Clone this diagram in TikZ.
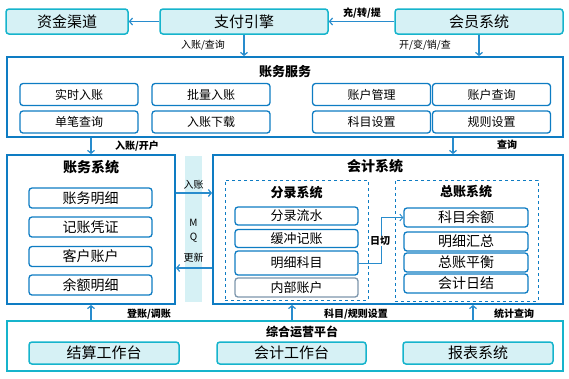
\documentclass[tikz,border=0pt]{standalone}
\usepackage{fontspec}
\setmainfont{Noto Sans CJK SC}
\usetikzlibrary{arrows.meta}
\definecolor{linecyan}{RGB}{22, 180, 204}
\definecolor{fillcyan}{RGB}{214, 241, 245}
\definecolor{frameblue}{RGB}{14, 124, 195}
\definecolor{arrowblue}{RGB}{40, 140, 205}
\definecolor{grayblue}{RGB}{125, 150, 172}

\begin{document}
\begin{tikzpicture}[
    x=1pt, y=-1pt,
    topbox/.style={draw=linecyan, fill=fillcyan, line width=1.5pt, rounded corners=3pt,
                   inner sep=0pt, minimum height=#1, font=\fontsize{15}{15}\selectfont},
    topbox/.default=25pt,
    frame/.style={draw=#1, line width=1.8pt, inner sep=0pt},
    frame/.default=frameblue,
    subbox/.style={draw=#1, line width=1.3pt, rounded corners=3pt, fill=white, inner sep=0pt},
    subbox/.default=frameblue,
    dashbox/.style={draw=frameblue, dashed, line width=0.9pt, inner sep=0pt},
    title/.style={font=\bfseries\fontsize{#1}{#1}\selectfont},
    lbl/.style={font=\fontsize{10}{10}\selectfont, inner sep=1pt},
    blbl/.style={font=\bfseries\fontsize{10}{10}\selectfont, inner sep=1pt},
    arr/.style={draw=arrowblue, line width=1.2pt, -{Straight Barb[length=3pt, width=7pt]}}
]
    \useasboundingbox (0,0) rectangle (569,378);

    % Top row
    \node[topbox, minimum width=122pt] (zjqd) at (67,21.5)  {资金渠道};
    \node[topbox, minimum width=168pt] (zfyq) at (244,21.5) {支付引擎};
    \node[topbox, minimum width=168pt] (hyxt) at (479,21.5) {会员系统};

    % Accounting service
    \node[frame, minimum width=556pt, minimum height=80pt] (zwfw) at (285,97) {};
    \node[title=13] (zwfw_t) at (285,72) {账务服务};
    \tikzset{svc/.style={subbox, minimum width=118pt, minimum height=22pt, font=\fontsize{12}{12}\selectfont}}
    \node[svc] (ssrz) at (79,94.5)    {实时入账};
    \node[svc] (plrz) at (211,94.5)   {批量入账};
    \node[svc] (zhgl) at (371.5,94.5) {账户管理};
    \node[svc] (zhcx) at (491.5,94.5) {账户查询};
    \node[svc] (dbcx) at (79,122)     {单笔查询};
    \node[svc] (rzxz) at (211,122)    {入账下载};
    \node[svc] (kmsz) at (371.5,122)  {科目设置};
    \node[svc] (gzsz) at (491.5,122)  {规则设置};

    % Ledger system
    \node[frame, minimum width=168pt, minimum height=149pt] (zwxt) at (91,229.5) {};
    \node[title=14] (zwxt_t) at (91,167) {账务系统};
    \tikzset{zw/.style={subbox, minimum width=123pt, minimum height=20pt, font=\fontsize{14}{14}\selectfont}}
    \node[zw] (zwmx) at (90.5,198)   {账务明细};
    \node[zw] (jzpz) at (90.5,227)   {记账凭证};
    \node[zw] (khzh) at (90.5,256.5) {客户账户};
    \node[zw] (yemx) at (90.5,285)   {余额明细};

    % MQ bar
    \node[fill=fillcyan, inner sep=0pt, minimum width=17pt, minimum height=146pt] (mq) at (193.5,229) {};
    \node[lbl] (mq_m) at (193.5,223) {M};
    \node[lbl] (mq_q) at (193.5,238) {Q};

    % Accounting system
    \node[frame, minimum width=350pt, minimum height=149pt] (kjxt) at (388,229.5) {};
    \node[title=14] (kjxt_t) at (375,166) {会计系统};

    % Entry subsystem
    \node[dashbox, minimum width=143pt, minimum height=120pt] (flxt) at (296.5,240) {};
    \node[title=13] (flxt_t) at (296.5,193) {分录系统};
    \tikzset{fl/.style={subbox=#1, minimum width=123pt, font=\fontsize{13}{13}\selectfont},
             fl/.default=frameblue}
    \node[fl, minimum height=18pt] (flls) at (296.5,216)   {分录流水};
    \node[fl, minimum height=18pt] (hcjz) at (296.5,238.5) {缓冲记账};
    \node[fl, minimum height=24pt] (mxkm) at (296.5,263)   {明细科目};
    \node[fl=grayblue, minimum height=19pt] (nbzh) at (296.5,287.5) {内部账户};

    % General ledger subsystem
    \node[dashbox, minimum width=143pt, minimum height=121pt] (zzxt) at (466.5,240.5) {};
    \node[title=13] (zzxt_t) at (466,192) {总账系统};
    \tikzset{zz/.style={subbox, minimum width=124pt, minimum height=19pt, font=\fontsize{14}{14}\selectfont}}
    \node[zz] (kmye) at (466,217.5) {科目余额};
    \node[zz] (mxhz) at (466,241.5) {明细汇总};
    \node[zz] (zzph) at (466,262.5) {总账平衡};
    \node[zz] (kjrj) at (466,283.5) {会计日结};

    % Operation platform
    \node[frame=linecyan, minimum width=556pt, minimum height=50pt] (zhyy) at (285,346) {};
    \node[title=12] (zhyy_t) at (302,332) {综合运营平台};
    \node[topbox=22pt, minimum width=150pt] (jsgz) at (104,353)   {结算工作台};
    \node[topbox=22pt, minimum width=149pt] (kjgz) at (291.5,353) {会计工作台};
    \node[topbox=22pt, minimum width=150pt] (bbxt) at (478,353)   {报表系统};

    % Helper coordinates
    \coordinate (mq_in)  at (0,193);
    \coordinate (mq_out) at (0,268);
    \coordinate (cx_x)   at (453,0);
    \coordinate (rq_x)   at (381,0);
    \coordinate (km_x)   at (292,0);
    \coordinate (tj_x)   at (473,0);

    % Top arrows
    \draw[arr] (zfyq.west) -- (zjqd.east);
    \draw[arr] (hyxt.west) -- (zfyq.east);
    \node[blbl] at (362,13) {充/转/提};
    \draw[arr] (zfyq.south) -- (zfyq.south |- zwfw.north);
    \node[lbl] at (203,45) {入账/查询};
    \draw[arr] (hyxt.south) -- (hyxt.south |- zwfw.north);
    \node[lbl] at (425,45) {开/变/销/查};

    % Service to systems
    \draw[arr] (zwfw.south -| zwxt.north) -- (zwxt.north);
    \node[blbl] at (137,146) {入账/开户};
    \draw[arr] (zwfw.south -| cx_x) -- (kjxt.north -| cx_x);
    \node[blbl] at (507,145) {查询};

    % MQ arrows
    \draw[arr] (zwxt.east |- mq_in) -- (kjxt.west |- mq_in);
    \node[lbl] at (193.5,185) {入账};
    \draw[arr] (kjxt.west |- mq_out) -- (zwxt.east |- mq_out);
    \node[lbl] at (193.5,258) {更新};

    % Day cut
    \draw[arr, line width=0.9pt] (mxkm.east) -| (rq_x |- kmye.west) -- (kmye.west);
    \node[blbl, fill=white, inner sep=0.5pt] at (380,241) {日切};

    % Platform arrows
    \draw[arr] (zhyy.north -| zwxt.south) -- (zwxt.south);
    \node[blbl] at (149,314) {登账/调账};
    \draw[arr] (zhyy.north -| km_x) -- (kjxt.south -| km_x);
    \node[blbl] at (356,314) {科目/规则设置};
    \draw[arr] (zhyy.north -| tj_x) -- (kjxt.south -| tj_x);
    \node[blbl] at (514,314) {统计查询};

\end{tikzpicture}
\end{document}
